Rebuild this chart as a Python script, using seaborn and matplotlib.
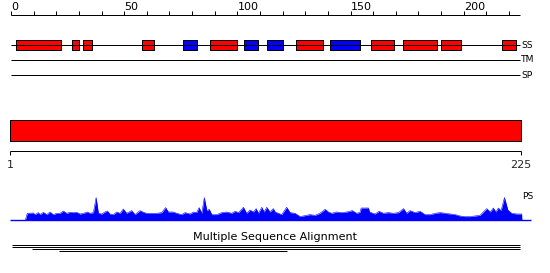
import matplotlib
matplotlib.use("Agg")
import matplotlib.pyplot as plt
import seaborn as sns
import pandas as pd

sns.set_theme(style="white")
plt.rcParams['font.family'] = ['DejaVu Sans']

# ---------------- data ----------------
seq_len = 225
ruler_ticks = list(range(0, 221, 10))
ruler_labels = [0, 50, 100, 150, 200]

helix_starts = [2, 27, 32, 58, 88, 126, 159, 173, 190, 217]
helix_ends = [22, 30, 36, 63, 100, 138, 169, 188, 199, 223]
strand_starts = [76, 103, 113, 141]
strand_ends = [82, 109, 120, 154]

domain_start = 1
domain_end = 225

track_labels = ["SS", "TM", "SP"]

ps_pos = [6.3, 7.2, 9.9, 10.6, 12.1, 12.8, 14.3, 15.8, 17.2, 18.7, 20.2, 21.7, 23.1, 24.6,
          26.1, 27.5, 29.0, 30.5, 32.0, 33.7, 34.9, 36.4, 37.6, 38.6, 40.1, 41.5, 42.6, 43.7,
          45.2, 46.7, 48.2, 49.6, 51.1, 53.3, 54.8, 57.0, 58.5, 59.9, 62.2, 64.4, 66.6, 68.3,
          69.5, 71.7, 73.2, 75.4, 76.9, 79.1, 80.6, 82.0, 83.1, 84.3, 85.4, 86.5, 87.6, 88.7,
          90.9, 93.1, 95.3, 97.5, 99.0, 100.5, 102.7, 104.1, 105.6, 107.1, 108.3, 109.3, 110.8,
          111.8, 113.0, 114.4, 115.9, 116.7, 118.1, 119.6, 121.8, 123.3, 125.5, 127.7, 129.9,
          132.1, 134.3, 136.5, 138.8, 140.2, 141.7, 143.9, 146.1, 148.3, 150.8, 152.7, 154.2,
          154.7, 157.9, 158.4, 160.8, 162.6, 164.5, 166.7, 168.9, 171.2, 173.4, 174.8, 176.3,
          178.5, 180.7, 182.9, 185.2, 187.4, 189.6, 191.8, 194.0, 196.2, 198.4, 200.6, 202.8,
          205.0, 207.2, 208.7, 210.2, 211.7, 213.1, 214.2, 215.3, 216.5, 218.0, 219.5, 221.2,
          223.4, 225.6, 225.7]
ps_score = [0, 7.0, 7.3, 5.7, 7.7, 5.7, 8.0, 5.7, 8.3, 5.7, 7.0, 7.0, 9.3, 7.0,
            8.0, 7.7, 8.0, 6.3, 7.0, 8.3, 7.0, 7.7, 22.7, 7.0, 6.3, 8.3, 9.3, 6.3,
            5.7, 8.3, 7.0, 11.3, 7.0, 9.7, 5.7, 9.7, 8.0, 7.0, 7.0, 7.0, 7.7, 12.7,
            8.3, 8.3, 7.0, 5.7, 7.7, 6.3, 8.3, 7.7, 12.7, 7.0, 22.7, 9.7, 11.0, 5.7,
            5.7, 7.7, 8.3, 7.0, 9.0, 7.7, 13.0, 7.0, 10.3, 8.3, 11.7, 7.0, 13.0,
            8.3, 13.0, 8.3, 11.7, 8.3, 7.0, 5.7, 13.0, 7.7, 7.0, 3.7, 4.7,
            5.7, 5.0, 7.0, 11.0, 8.3, 7.0, 8.3, 7.7, 8.3, 9.7, 7.0, 8.0,
            12.3, 12.3, 8.3, 6.3, 9.0, 7.0, 7.7, 7.0, 7.7, 11.7, 7.0, 9.7,
            7.7, 9.0, 5.7, 5.7, 7.0, 7.7, 7.0, 6.3, 5.7, 4.3, 3.7, 3.7,
            4.3, 5.0, 8.3, 11.7, 8.3, 12.3, 8.3, 12.3, 9.7, 22.7, 10.3, 7.0,
            6.3, 6.3, 0]

msa_starts = [0, 0, 9, 21]
msa_ends = [225, 225, 225, 122]

# ---------------- layout helpers ----------------
W, H = 550, 273
x0_px, x1_px = 11.0, 520.3
k = (x1_px - x0_px) / seq_len          # pixels per residue
xlim = (-x0_px / k, (W - x0_px) / k)

fig = plt.figure(figsize=(W / 100, H / 100), dpi=100)
ax = fig.add_axes([0, 0, 1, 1])
ax.set_xlim(*xlim)
ax.set_ylim(H, 0)
ax.axis("off")

px = 0.72  # one pixel in points
red = "#ff0000"
blue = "#0000ff"

# top ruler
ax.hlines(14.5, 0, seq_len, color="black", lw=px)
ax.vlines(ruler_ticks, 11, 14.5, color="black", lw=px)
for t in ruler_labels:
    ax.text(t + 0.1, 10.5, str(t), fontsize=8, ha="left", va="baseline", color="black")

# SS track
track_y = [45, 60, 75]
for y, lab in zip(track_y, track_labels):
    ax.hlines(y, 0, seq_len, color="black", lw=px)
    ax.text(seq_len + 0.3, y, lab, fontsize=6.6, ha="left", va="center", color="black")
ax.broken_barh([(s, e - s) for s, e in zip(helix_starts, helix_ends)], (40, 10),
               facecolors=red, edgecolors="black", linewidth=px)
ax.broken_barh([(s, e - s) for s, e in zip(strand_starts, strand_ends)], (40, 10),
               facecolors=blue, edgecolors="black", linewidth=px)

# domain bar
ax.broken_barh([(domain_start - 1.4, domain_end - domain_start + 1.6)], (120, 20.5),
               facecolors=red, edgecolors="black", linewidth=px)
ax.hlines(150.7, domain_start - 1.4, domain_end + 0.2, color="black", lw=px)
ax.vlines([domain_start - 1.4, domain_end + 0.2], 150.7, 155, color="black", lw=px)
ax.text(domain_start - 1.4, 168, str(domain_start), fontsize=8, ha="center", va="baseline")
ax.text(domain_end + 0.2, 168, str(domain_end), fontsize=8, ha="center", va="baseline")

# MSA
ax.text(((W / 2) - x0_px) / k, 240, "Multiple Sequence Alignment", fontsize=8,
        ha="center", va="baseline", color="black")
for i, (s, e) in enumerate(zip(msa_starts, msa_ends)):
    ax.hlines(245 + 2 * i, s + 0.4, e, color="black", lw=px)

# PS profile on a twin axes (y in score units, baseline at y=220.3 px)
ax2 = fig.add_axes([0, 0, 1, 1], facecolor="none")
ax2.set_xlim(*xlim)
base_px = 220.3
ax2.set_ylim(-(H - base_px), base_px)
ax2.axis("off")
df = pd.DataFrame({"pos": ps_pos, "score": ps_score})
ax2.fill_between(df["pos"], 0, df["score"], color=blue, linewidth=0)
sns.lineplot(data=df, x="pos", y="score", ax=ax2, color=blue, lw=0.4, legend=False)
ax2.hlines(0, -0.45, 229.8, color=blue, lw=1.0)
ax2.text(225.8, 24, "PS", fontsize=6.6, ha="left", va="center", color="black")
ax2.set_xlim(*xlim)
ax2.set_ylim(-(H - base_px), base_px)

fig.savefig("out.png", dpi=100)
